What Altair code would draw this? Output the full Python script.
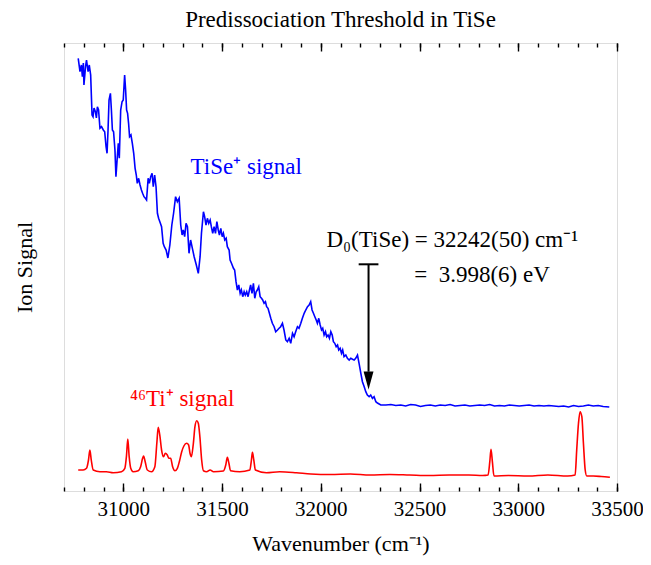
import altair as alt
import pandas as pd

# ---------------- data ----------------
blue_wn = [30772, 30781, 30788, 30793, 30798, 30801, 30809, 30814, 30822, 30828, 30835, 30842, 30847,
           30852, 30859, 30864, 30869, 30875, 30882, 30890, 30899, 30906, 30913, 30918, 30923, 30928,
           30935, 30940, 30945, 30951, 30958, 30963, 30970, 30975, 30980, 30987, 30994, 31000, 31007,
           31012, 31017, 31022, 31027, 31032, 31039, 31046, 31053, 31060, 31066, 31071, 31078, 31085,
           31092, 31098, 31105, 31112, 31118, 31126, 31132, 31139, 31146, 31152, 31159, 31166, 31173,
           31179, 31188, 31194, 31202, 31208, 31217, 31226, 31236, 31246, 31255, 31265, 31274, 31283,
           31291, 31298, 31304, 31311, 31318, 31325, 31333, 31341, 31350, 31359, 31370, 31380, 31389,
           31396, 31406, 31412, 31419, 31426, 31433, 31440, 31446, 31453, 31460, 31467, 31474, 31481,
           31487, 31494, 31501, 31507, 31514, 31521, 31527, 31536, 31541, 31548, 31558, 31564, 31571,
           31578, 31585, 31592, 31598, 31605, 31612, 31618, 31625, 31632, 31639, 31645, 31652, 31659,
           31666, 31673, 31679, 31686, 31693, 31700, 31706, 31713, 31720, 31726, 31733, 31740, 31747,
           31755, 31764, 31772, 31781, 31789, 31797, 31806, 31814, 31823, 31831, 31840, 31848, 31857,
           31865, 31873, 31882, 31890, 31899, 31907, 31916, 31924, 31933, 31941, 31949, 31956, 31963,
           31970, 31977, 31983, 31990, 31997, 32004, 32010, 32017, 32024, 32030, 32037, 32044, 32051,
           32058, 32064, 32071, 32078, 32085, 32091, 32098, 32105, 32111, 32118, 32127, 32135, 32144,
           32152, 32161, 32169, 32177, 32186, 32194, 32203, 32211, 32220, 32228, 32236, 32245, 32253,
           32262, 32270, 32279, 32287, 32304, 32330, 32355, 32380, 32405, 32430, 32455, 32480, 32505,
           32530, 32555, 32580, 32605, 32630, 32655, 32680, 32705, 32730, 32755, 32780, 32805, 32830,
           32855, 32880, 32905, 32930, 32955, 32980, 33005, 33030, 33055, 33080, 33105, 33130, 33155,
           33180, 33205, 33230, 33255, 33280, 33305, 33330, 33355, 33380, 33405, 33430, 33461]
blue_sig = [432.7, 419.3, 426, 414.3, 428, 406, 424.3, 431, 419.3, 426, 416, 376, 374.3,
            383, 379.3, 373, 384.3, 381, 362.7, 364.3, 361, 359.3, 344.3, 337.7, 361, 391,
            397.7, 381, 361, 359.3, 341, 314.3, 334.3, 347.7, 332.7, 381, 389.3, 391, 416,
            401, 381, 377.7, 367.7, 354.3, 356, 347.7, 337.7, 322.7, 316, 307.7, 312.7, 306,
            301, 297.7, 294.3, 292.7, 291, 312.7, 307.7, 314.3, 317.7, 304.3, 316, 304.3, 277.7,
            272.7, 267.7, 264.3, 247.7, 244.3, 241, 233, 246, 266, 278, 294.3, 289.3, 292.7,
            266, 256, 261, 254.3, 267.7, 264.3, 237.7, 251, 242.7, 234.3, 226, 217.7, 234.3,
            257.7, 279.3, 274.3, 266, 272.7, 267.7, 271, 264.3, 257.7, 264.3, 257.7, 269.3, 261,
            256, 262.7, 254.3, 257.7, 251, 252.7, 244.3, 241, 231, 227.7, 222.7, 221, 209.3,
            201, 206, 197.7, 201, 194.3, 199.3, 196, 199.3, 194.3, 201, 206, 197.7, 207.7,
            192.7, 199.3, 201, 204.3, 194.3, 192.7, 191, 187.7, 189.3, 184.3, 182.7, 177.7, 172.7,
            167.7, 164.3, 159.3, 161, 162.7, 164.3, 167.7, 161, 151, 149.3, 152.7, 147.7, 157.7,
            154.3, 159.3, 164.3, 162.7, 167.7, 172.7, 177.7, 181, 184.3, 186, 189.3, 181, 177.7,
            174.3, 171, 167.7, 172.7, 166, 161, 162.7, 156, 159.3, 154.3, 156, 152.7, 159.3,
            156, 149.3, 147.7, 144.3, 146, 141, 142.7, 137.7, 141, 134.3, 136, 132.7, 131,
            132.7, 131.7, 131, 132.7, 136, 127.7, 117.7, 109.3, 104.3, 99.3, 96, 94.3, 96,
            92.7, 94.3, 89.3, 88, 86, 86, 86.5, 85.5, 86, 85, 86.5, 86, 84.5,
            85.5, 86, 85, 86, 85.5, 86.5, 85, 85.5, 86, 85, 85.5, 86, 85.5,
            86.5, 85, 85.5, 85, 86, 85.5, 85, 85.5, 86, 85, 85.5, 85, 85.5,
            85, 84.5, 85, 84, 85.5, 84.5, 85, 86, 85, 85.5, 84.5, 84]

red_wn = [30772, 30797, 30814, 30824, 30831, 30838, 30848, 30882, 30915, 30949, 30991, 31008, 31016,
          31023, 31030, 31038, 31050, 31076, 31088, 31098, 31103, 31111, 31122, 31143, 31160, 31170,
          31177, 31186, 31194, 31204, 31213, 31223, 31231, 31240, 31250, 31262, 31274, 31284, 31296,
          31307, 31321, 31331, 31338, 31345, 31355, 31363, 31372, 31380, 31388, 31397, 31406, 31422,
          31440, 31457, 31507, 31519, 31527, 31535, 31543, 31590, 31641, 31649, 31654, 31661, 31669,
          31725, 31792, 31877, 31950, 32050, 32150, 32250, 32350, 32450, 32550, 32650, 32750, 32820,
          32847, 32856, 32862, 32869, 32877, 32950, 33050, 33150, 33250, 33288, 33296, 33305, 33313,
          33322, 33330, 33339, 33347, 33380, 33420, 33464]
red_sig = [21, 21, 22.7, 31, 41, 31, 21, 19.3, 19.3, 18.3, 19.3, 22.7, 34.3,
           52, 34.3, 22.7, 19.3, 20.3, 24.3, 32.7, 35, 29.3, 21, 19.3, 24.3, 47.7,
           63.7, 54.3, 41, 34.3, 37.7, 36, 32.7, 32.7, 24.3, 20.3, 22.7, 29.3, 39.3,
           45, 47.7, 46, 37.7, 34.3, 47.7, 64.3, 70.3, 67.7, 54.3, 31, 20.3, 19.3,
           21, 19.3, 20, 26, 33.7, 27.7, 20.3, 19.3, 21, 31, 38.7, 31, 21,
           18.3, 19.3, 18.3, 17, 16.5, 17, 16, 16.5, 16, 15.5, 16, 16, 15.5,
           16, 29.3, 41.7, 29.3, 15, 15.5, 15, 16, 15, 16, 41, 67.7, 79.3,
           74.3, 47.7, 21, 15, 15, 14.5, 13.7]

major_ticks = [31000, 31500, 32000, 32500, 33000, 33500]
minor_ticks = [30700 + 100 * i for i in range(29)]

d0_wn = 32242          # threshold position (arrow)
d0_err = 50            # error bar half-width
arrow_top = 226.7      # top of arrow (signal units)
arrow_base = 119.3     # base of arrowhead
arrow_tip_mid = 110.5  # centre of arrowhead

text_wn = [31341, 31034, 32029, 32473]
text_sig = [316.7, 85, 244.3, 209.3]
text_label = ["TiSe\u207a signal", "\u2074\u2076Ti\u207a signal",
              "D\u2080(TiSe) = 32242(50) cm\u207b\u00b9", "=\u00a0\u00a03.998(6) eV"]
text_color = ["#0000ff", "#ff0000", "#000000", "#000000"]

title_text = "Predissociation Threshold in TiSe"

FONT = "Liberation Serif"

blue = pd.DataFrame({"wn": blue_wn, "sig": blue_sig})
red = pd.DataFrame({"wn": red_wn, "sig": red_sig})
arrow = pd.DataFrame({"wn": [d0_wn], "top": [arrow_top], "base": [arrow_base],
                      "tip": [arrow_tip_mid], "lo": [d0_wn - d0_err], "hi": [d0_wn + d0_err]})
texts = pd.DataFrame({"wn": text_wn, "sig": text_sig, "label": text_label, "color": text_color})

xs = alt.Scale(domain=[30700, 33500], nice=False, zero=False)
ys = alt.Scale(domain=[0, 448], nice=False, zero=False)

y_axis = alt.Axis(ticks=False, labels=False, domain=False, grid=False, title="Ion Signal",
                  titleFont=FONT, titleFontSize=22, titleFontWeight="normal", titleColor="black",
                  titlePadding=28)

ax_bottom_major = alt.Axis(orient="bottom", values=major_ticks, tickSize=8, offset=-8, domain=False,
                           grid=False, tickColor="black", tickWidth=1.4, labelFont=FONT,
                           labelFontSize=21, labelColor="black", labelPadding=7, format="d",
                           labelFlush=False, title="Wavenumber (cm\u207b\u00b9)", titleFont=FONT,
                           titleFontSize=22, titleFontWeight="normal", titleColor="black",
                           titlePadding=14)
ax_bottom_minor = alt.Axis(orient="bottom", values=minor_ticks, tickSize=4, offset=-4, domain=False,
                           grid=False, tickColor="black", tickWidth=1.4, labels=False, title=None)
ax_top_major = alt.Axis(orient="top", values=major_ticks, tickSize=8, offset=-8, domain=False,
                        grid=False, tickColor="black", tickWidth=1.4, labels=False, title=None)
ax_top_minor = alt.Axis(orient="top", values=minor_ticks, tickSize=4, offset=-4, domain=False,
                        grid=False, tickColor="black", tickWidth=1.4, labels=False, title=None)

l_blue = alt.Chart(blue).mark_line(color="#0000ff", strokeWidth=1.6).encode(
    x=alt.X("wn:Q", scale=xs, axis=ax_bottom_major),
    y=alt.Y("sig:Q", scale=ys, axis=y_axis))
l_red = alt.Chart(red).mark_line(color="#ff0000", strokeWidth=1.6, interpolate="monotone").encode(
    x=alt.X("wn:Q", scale=xs, axis=ax_bottom_minor),
    y=alt.Y("sig:Q", scale=ys, axis=y_axis))
l_arrow = alt.Chart(arrow).mark_rule(color="black", strokeWidth=2).encode(
    x=alt.X("wn:Q", scale=xs, axis=ax_top_major),
    y=alt.Y("top:Q", scale=ys, axis=y_axis), y2="base:Q")
l_bar = alt.Chart(arrow).mark_rule(color="black", strokeWidth=2).encode(
    x=alt.X("lo:Q", scale=xs, axis=ax_top_minor), x2="hi:Q",
    y=alt.Y("top:Q", scale=ys, axis=y_axis))
l_head = alt.Chart(arrow).mark_point(shape="M-0.55,-1L0.55,-1L0,1Z", filled=True, size=324,
                                     color="black", opacity=1).encode(
    x=alt.X("wn:Q", scale=xs, axis=None),
    y=alt.Y("tip:Q", scale=ys, axis=y_axis))
l_text = alt.Chart(texts).mark_text(font=FONT, fontSize=23, align="left", baseline="alphabetic").encode(
    x=alt.X("wn:Q", scale=xs, axis=None),
    y=alt.Y("sig:Q", scale=ys, axis=y_axis),
    text="label:N",
    color=alt.Color("color:N", scale=None))

chart = alt.layer(l_blue, l_red, l_arrow, l_bar, l_head, l_text).resolve_axis(
    x="independent").resolve_scale(x="shared", y="shared").properties(
    width=553, height=448,
    padding={"left": 56, "top": 35, "right": 26, "bottom": 66},
    autosize=alt.AutoSizeParams(type="none"),
    title=alt.TitleParams(title_text, font=FONT, fontSize=23, fontWeight="normal", color="black",
                          anchor="middle", frame="group", offset=10),
).configure_view(stroke="black", strokeWidth=1.8).configure(background="white")

chart.save("out.html", embed_options={"renderer": "svg", "actions": False})
